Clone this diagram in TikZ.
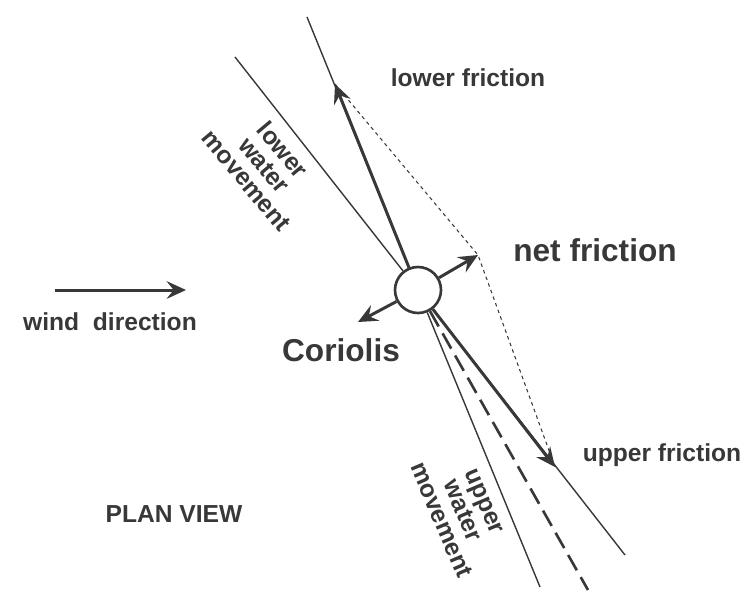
\documentclass[tikz,border=0pt]{standalone}
\usepackage{fontspec}
\setmainfont{Liberation Sans}
\usetikzlibrary{arrows.meta}
\definecolor{ink}{gray}{0.22}
\begin{document}
\begin{tikzpicture}[x=0.02cm, y=-0.02cm, ink,
    >={Stealth[length=11pt, width=10pt, inset=4pt]},
    vec/.style={->, line width=1.7pt},
    ray/.style={line width=0.8pt},
    construct/.style={line width=0.6pt, dash pattern=on 2pt off 2pt},
    driftline/.style={line width=1.5pt, dash pattern=on 10pt off 4.5pt},
    ball/.style={circle, draw, fill=white, line width=1.5pt, minimum size=0.92cm, inner sep=0pt},
    smalltext/.style={font=\bfseries\fontsize{14}{13.5}\selectfont, text=ink},
    bigtext/.style={font=\bfseries\fontsize{18}{20}\selectfont, text=ink}]
    \useasboundingbox (0,0) rectangle (756,606);

    % Ball
    \node[ball] (ball) at (418,290) {};

    % Points
    \coordinate (lwTop) at (235,57);
    \coordinate (ufEnd) at (625,555);
    \coordinate (lfTop) at (307,17);
    \coordinate (uwEnd) at (540,587);
    \coordinate (lfTip) at (335,84);
    \coordinate (ufTip) at (555,467);
    \coordinate (netTip) at (478,255);
    \coordinate (corTip) at (358,322);
    \coordinate (drift) at (588,590);
    \coordinate (windStart) at (55,290);
    \coordinate (windEnd) at (186,290);

    % Thin Lines
    \draw[ray] (lwTop) -- (ball);
    \draw[ray] (ball) -- (ufEnd);
    \draw[ray] (lfTop) -- (ball);
    \draw[ray] (ball) -- (uwEnd);

    % Dashed Lines
    \draw[construct] (lfTip) -- (netTip) -- (ufTip);
    \draw[driftline] (ball) -- (drift);

    % Arrows
    \draw[vec] (ball) -- (lfTip);
    \draw[vec] (ball) -- (ufTip);
    \draw[vec] (ball) -- (netTip);
    \draw[vec] (ball) -- (corTip);
    \draw[vec] (windStart) -- (windEnd);

    % Labels
    \node[smalltext] (lfLabel) at (468,78) {lower friction};
    \node[bigtext] (netLabel) at (595,250) {net friction};
    \node[bigtext] (corLabel) at (341,350) {Coriolis};
    \node[smalltext] (ufLabel) at (662,455) {upper friction};
    \node[smalltext] (windLabel) at (110,322) {wind\ \ direction};
    \node[smalltext] (planLabel) at (174,514) {PLAN VIEW};
    \node[smalltext, rotate=-50, align=center] (lwLabel) at (265,165) {lower\\water\\movement};
    \node[smalltext, rotate=-67, align=center] (uwLabel) at (462,511) {upper\\water\\movement};
\end{tikzpicture}
\end{document}
